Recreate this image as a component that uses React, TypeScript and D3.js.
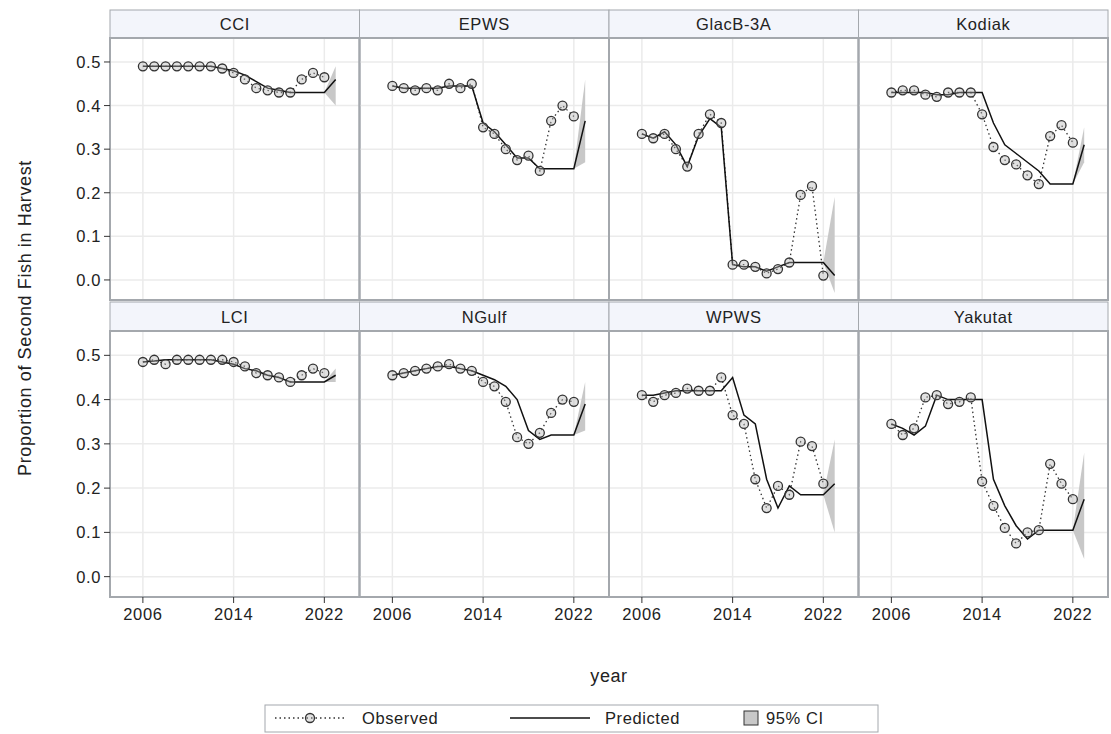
import React from "react";
import * as d3 from "d3";

const panels = ["CCI", "EPWS", "GlacB-3A", "Kodiak", "LCI", "NGulf", "WPWS", "Yakutat"];
const obsYears = d3.range(2006, 2023);
const predYears = d3.range(2006, 2024);

const observed: number[][] = [
  [.49,.49,.49,.49,.49,.49,.49,.485,.475,.46,.44,.435,.43,.43,.46,.475,.465],
  [.445,.44,.435,.44,.435,.45,.44,.45,.35,.335,.30,.275,.285,.25,.365,.40,.375],
  [.335,.325,.335,.30,.26,.335,.38,.36,.035,.035,.03,.015,.025,.04,.195,.215,.01],
  [.43,.435,.435,.425,.42,.43,.43,.43,.38,.305,.275,.265,.24,.22,.33,.355,.315],
  [.485,.49,.48,.49,.49,.49,.49,.49,.485,.475,.46,.455,.45,.44,.455,.47,.46],
  [.455,.46,.465,.47,.475,.48,.47,.465,.44,.43,.395,.315,.30,.325,.37,.40,.395],
  [.41,.395,.41,.415,.425,.42,.42,.45,.365,.345,.22,.155,.205,.185,.305,.295,.21],
  [.345,.32,.335,.405,.41,.39,.395,.405,.215,.16,.11,.075,.10,.105,.255,.21,.175],
];
const predicted: number[][] = [
  [.49,.49,.49,.49,.49,.49,.49,.485,.48,.47,.455,.44,.435,.43,.43,.43,.43,.46],
  [.445,.44,.44,.44,.44,.445,.445,.445,.36,.34,.31,.28,.28,.255,.255,.255,.255,.365],
  [.335,.325,.34,.31,.26,.33,.37,.35,.035,.03,.03,.02,.03,.04,.04,.04,.04,.01],
  [.43,.43,.43,.43,.425,.425,.43,.43,.43,.36,.31,.29,.27,.25,.22,.22,.22,.31],
  [.485,.487,.49,.49,.49,.49,.49,.485,.48,.47,.465,.455,.45,.44,.44,.44,.44,.455],
  [.455,.46,.465,.47,.475,.475,.47,.465,.455,.445,.43,.40,.33,.31,.32,.32,.32,.39],
  [.41,.41,.415,.42,.42,.42,.42,.42,.45,.365,.345,.22,.155,.205,.185,.185,.185,.21],
  [.345,.335,.32,.34,.41,.40,.40,.40,.40,.22,.16,.115,.085,.105,.105,.105,.105,.175],
];
// 95% CI at the final forecast year (opens from zero width at 2022)
const ciLower = [.40, .27, -.03, .27, .44, .33, .10, .04];
const ciUpper = [.49, .46, .19, .35, .47, .44, .31, .28];

const yTicks = [0, 0.1, 0.2, 0.3, 0.4, 0.5];
const xTicks = [2006, 2014, 2022];

const left = 110, right = 1108;
const pw = (right - left) / 4;
const rows = [
  { head: 10, top: 38, bottom: 300 },
  { head: 302, top: 331, bottom: 597 },
];
const font = "'Liberation Sans', Arial, sans-serif";
const border = "#a4a8ad";
const fs = 16.5;

export default function App() {
  const x0 = d3.scaleLinear().domain([2003.1, 2025.1]).range([0, pw]);
  return (
    <svg width={1111} height={734} style={{ position: "absolute", left: 0, top: 0 }} fontFamily={font} letterSpacing={0.6}>
      <rect width={1111} height={734} fill="white" />
      {panels.map((name, i) => {
        const r = rows[Math.floor(i / 4)];
        const px = left + (i % 4) * pw;
        const y = d3.scaleLinear().domain([-0.046, 0.555]).range([r.bottom, r.top]);
        const x = (v: number) => px + x0(v);
        const obsLine = d3.line<number>().x((_, k) => x(obsYears[k])).y((d) => y(d));
        const predLine = d3.line<number>().x((_, k) => x(predYears[k])).y((d) => y(d));
        const p22 = predicted[i][16];
        const ci = `M${x(2022)},${y(p22)}L${x(2023)},${y(ciUpper[i])}L${x(2023)},${y(ciLower[i])}Z`;
        return (
          <g key={name}>
            <rect x={px} y={r.head} width={pw} height={r.top - r.head} fill="#f3f5fb" stroke={border} />
            <text x={px + pw / 2} y={(r.head + r.top) / 2 + 6} textAnchor="middle" fontSize={fs} fill="#222">{name}</text>
            {yTicks.map((t) => (
              <line key={t} x1={px} x2={px + pw} y1={y(t)} y2={y(t)} stroke="#ebebeb" strokeWidth={1.5} />
            ))}
            {xTicks.map((t) => (
              <line key={t} x1={x(t)} x2={x(t)} y1={r.top} y2={r.bottom} stroke="#ebebeb" strokeWidth={1.5} />
            ))}
            <path d={ci} fill="#c8c8c8" />
            <path d={obsLine(observed[i]) ?? ""} fill="none" stroke="#333" strokeWidth={1.3} strokeDasharray="1.5,3" />
            <path d={predLine(predicted[i]) ?? ""} fill="none" stroke="#111" strokeWidth={1.5} />
            {observed[i].map((v, k) => (
              <circle key={k} cx={x(obsYears[k])} cy={y(v)} r={4.5} fill="rgba(180,180,180,0.4)" stroke="#333" strokeWidth={1.3} />
            ))}
            <rect x={px} y={r.top} width={pw} height={r.bottom - r.top} fill="none" stroke={border} strokeWidth={2} />
            {i % 4 === 0 && yTicks.map((t) => (
              <g key={t}>
                <line x1={px - 6} x2={px} y1={y(t)} y2={y(t)} stroke="#333" />
                <text x={px - 9} y={y(t) + 6} textAnchor="end" fontSize={fs} fill="#222">{t.toFixed(1)}</text>
              </g>
            ))}
            {i >= 4 && xTicks.map((t) => (
              <g key={t}>
                <line x1={x(t)} x2={x(t)} y1={r.bottom} y2={r.bottom + 6} stroke="#333" />
                <text x={x(t)} y={r.bottom + 23} textAnchor="middle" fontSize={fs} fill="#222">{t}</text>
              </g>
            ))}
          </g>
        );
      })}
      <text transform="translate(31,318) rotate(-90)" textAnchor="middle" fontSize={18} fill="#222">Proportion of Second Fish in Harvest</text>
      <text x={609} y={682} textAnchor="middle" fontSize={18} fill="#222">year</text>
      <g>
        <rect x={265} y={705} width={613} height={27} fill="white" stroke={border} />
        <line x1={275} x2={345} y1={718} y2={718} stroke="#333" strokeWidth={1.3} strokeDasharray="1.5,3" />
        <circle cx={310} cy={718} r={4.5} fill="rgba(180,180,180,0.4)" stroke="#333" strokeWidth={1.3} />
        <text x={362} y={724} fontSize={fs} fill="#222">Observed</text>
        <line x1={510} x2={590} y1={718} y2={718} stroke="#111" strokeWidth={1.5} />
        <text x={605} y={724} fontSize={fs} fill="#222">Predicted</text>
        <rect x={744} y={711} width={14} height={14} fill="#c8c8c8" stroke="#333" />
        <text x={766} y={724} fontSize={fs} fill="#222">95% CI</text>
      </g>
    </svg>
  );
}
